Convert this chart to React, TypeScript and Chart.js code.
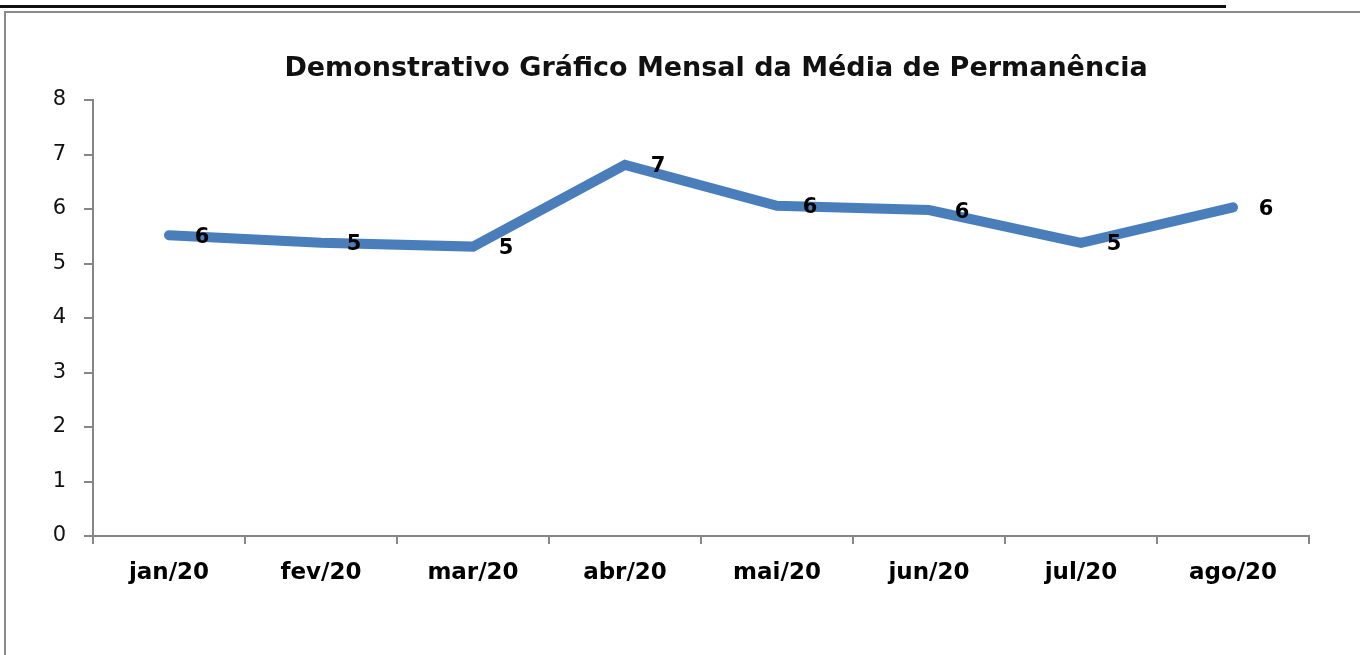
import React, { useEffect, useRef } from "react";
import { Chart, registerables } from "chart.js";

Chart.register(...registerables);

const chartTitle = "Demonstrativo Gráfico Mensal da Média de Permanência";
const months = ["jan/20", "fev/20", "mar/20", "abr/20", "mai/20", "jun/20", "jul/20", "ago/20"];
const mediaPermanencia = [5.52, 5.38, 5.31, 6.81, 6.06, 5.98, 5.38, 6.03];
const yTicks = [0, 1, 2, 3, 4, 5, 6, 7, 8];

const AXIS_GRAY = "#868686";
const LINE_BLUE = "#4a7ebb";
const FONT = "'DejaVu Sans', 'Noto Sans', sans-serif";

const titlePlugin = {
  id: "customTitle",
  afterDraw(chart: any) {
    const ctx = chart.ctx;
    ctx.save();
    ctx.font = `bold 27px ${FONT}`;
    ctx.fillStyle = "#111";
    ctx.textAlign = "center";
    ctx.textBaseline = "alphabetic";
    ctx.fillText(chartTitle, 716, 76);
    ctx.restore();
  },
};

const valueLabelPlugin = {
  id: "valueLabels",
  afterDatasetsDraw(chart: any) {
    const ctx = chart.ctx;
    const meta = chart.getDatasetMeta(0);
    const data = chart.data.datasets[0].data as number[];
    ctx.save();
    ctx.font = `bold 21px ${FONT}`;
    ctx.fillStyle = "#000";
    ctx.textAlign = "center";
    ctx.textBaseline = "middle";
    meta.data.forEach((pt: any, i: number) => {
      ctx.fillText(String(Math.round(data[i])), pt.x + 33, pt.y + 2);
    });
    ctx.restore();
  },
};

export default function App() {
  const canvasRef = useRef<HTMLCanvasElement | null>(null);

  useEffect(() => {
    if (!canvasRef.current) return;
    const chart = new Chart(canvasRef.current, {
      type: "line",
      data: {
        labels: months,
        datasets: [
          {
            data: mediaPermanencia,
            borderColor: LINE_BLUE,
            backgroundColor: LINE_BLUE,
            borderWidth: 10,
            borderCapStyle: "round",
            borderJoinStyle: "miter",
            pointRadius: 0,
            pointHoverRadius: 0,
            tension: 0,
            fill: false,
          },
        ],
      },
      options: {
        animation: false,
        responsive: false,
        maintainAspectRatio: false,
        events: [],
        layout: { padding: { top: 100, left: 0, right: 51, bottom: 0 } },
        plugins: {
          legend: { display: false },
          title: { display: false },
          tooltip: { enabled: false },
        },
        scales: {
          x: {
            type: "category",
            offset: true,
            grid: {
              offset: true,
              drawOnChartArea: false,
              drawTicks: true,
              tickLength: 8,
              color: AXIS_GRAY,
              lineWidth: 2,
            },
            border: { display: true, color: AXIS_GRAY, width: 2 },
            ticks: {
              color: "#000",
              font: { family: FONT, size: 23, weight: "bold" },
              padding: 15,
              maxRotation: 0,
              autoSkip: false,
            },
            afterFit(scale: any) {
              scale.height = 119;
            },
          },
          y: {
            min: 0,
            max: 8,
            afterBuildTicks(scale: any) {
              scale.ticks = yTicks.map((v) => ({ value: v }));
            },
            grid: {
              drawOnChartArea: false,
              drawTicks: true,
              tickLength: 9,
              color: AXIS_GRAY,
              lineWidth: 2,
            },
            border: { display: true, color: AXIS_GRAY, width: 2 },
            ticks: {
              color: "#111",
              font: { family: FONT, size: 21 },
              padding: 18,
            },
            afterFit(scale: any) {
              scale.width = 93;
            },
          },
        },
      },
      plugins: [titlePlugin, valueLabelPlugin],
    } as any);
    return () => chart.destroy();
  }, []);

  return (
    <div
      style={{
        position: "absolute",
        left: 0,
        top: 0,
        width: 1360,
        height: 655,
        overflow: "hidden",
        background: "#fff",
      }}
    >
      <div
        style={{
          position: "absolute",
          left: 0,
          top: 5,
          width: 1226,
          height: 3,
          background: "#111",
        }}
      />
      <div
        style={{
          position: "absolute",
          left: 4,
          top: 11,
          width: 1400,
          height: 700,
          borderTop: "2px solid #8a8a8a",
          borderLeft: "2px solid #8a8a8a",
        }}
      />
      <canvas
        ref={canvasRef}
        width={1360}
        height={655}
        style={{ position: "absolute", left: 0, top: 0, width: 1360, height: 655 }}
      />
    </div>
  );
}
